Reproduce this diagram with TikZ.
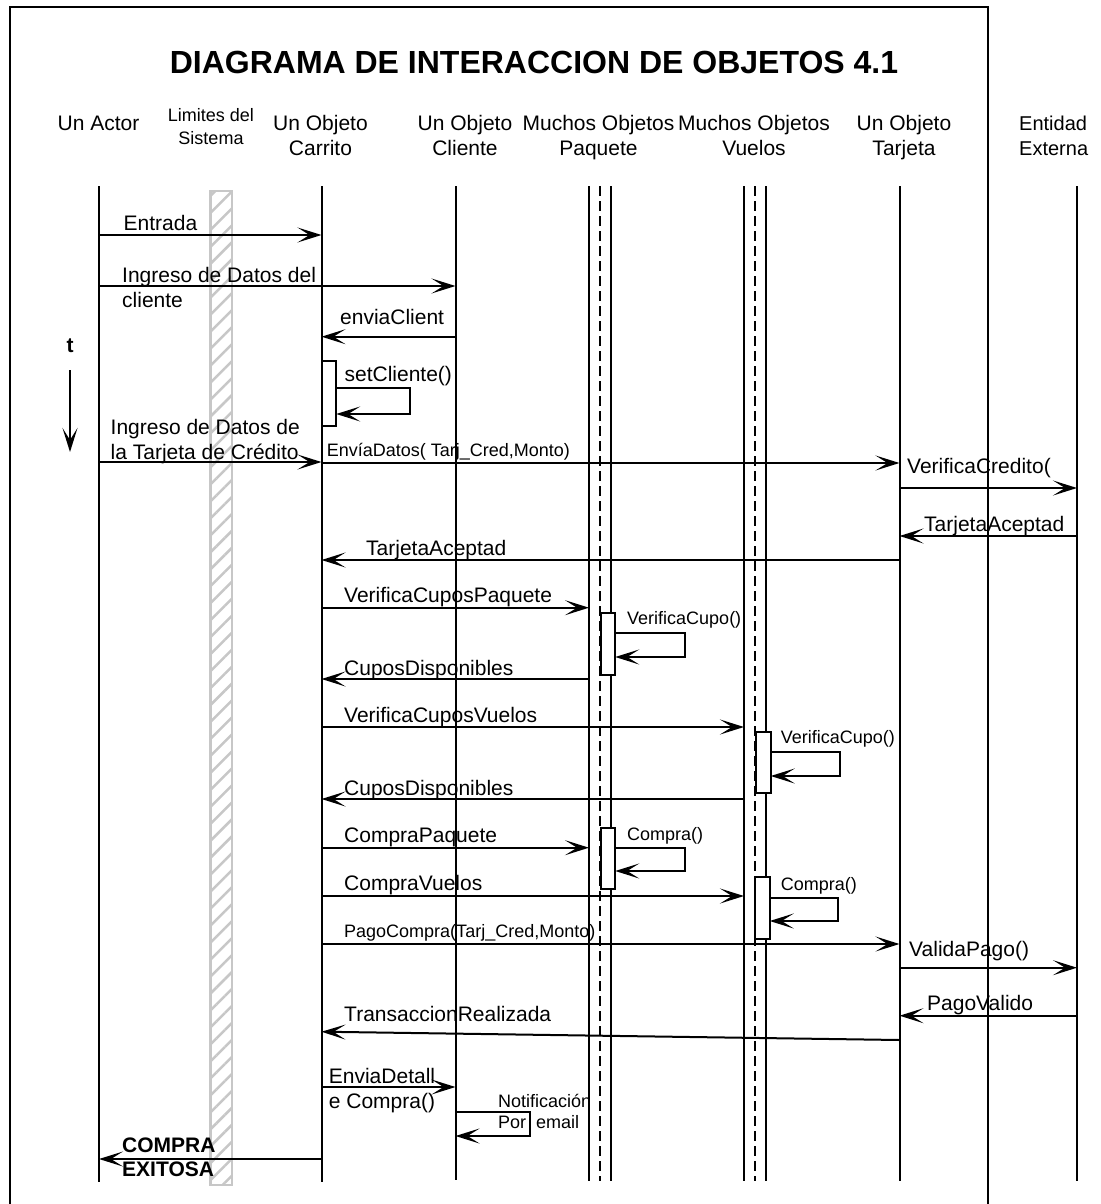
\documentclass[tikz,border=0pt]{standalone}
\usepackage{fontspec}
\setmainfont{Liberation Sans}
\usetikzlibrary{arrows.meta,patterns.meta}

\tikzset{
  lbl/.style={anchor=base west, inner sep=0pt, align=left, font=\fontsize{21}{25}\selectfont},
  sml/.style={anchor=base west, inner sep=0pt, align=left, font=\fontsize{18}{21}\selectfont},
  hdr/.style={anchor=base, inner sep=0pt, align=center, font=\fontsize{21}{25}\selectfont},
  life/.style={line width=2pt},
  multi/.style={line width=2pt, dash pattern=on 10pt off 5pt},
  msg/.style={line width=2pt, -{Stealth[length=24pt,width=15pt,inset=12pt]}},
  actbox/.style={draw, line width=2pt, fill=white, inner sep=0pt, minimum width=14.5pt},
}

\begin{document}
\begin{tikzpicture}[x=1pt,y=-1pt]
\useasboundingbox (0,0) rectangle (1100,1204);
\draw[line width=1.5pt] (10,1204) -- (10,7) -- (988,7) -- (988,1204);

\node[anchor=base, inner sep=0pt, font=\fontsize{32}{38}\selectfont\bfseries] (titulo) at (534,73.7) {DIAGRAMA DE INTERACCION DE OBJETOS 4.1};

% cabeceras
\node[hdr] (actor) at (98.5,130.5) {Un Actor};
\node[hdr, font=\fontsize{18}{23}\selectfont] (lim) at (211,144) {Limites del\\Sistema};
\node[hdr] (carrito) at (320.5,155.4) {Un Objeto\\Carrito};
\node[hdr] (cliente) at (465,155.4) {Un Objeto\\Cliente};
\node[hdr] (paquete) at (598.5,155.4) {Muchos Objetos\\Paquete};
\node[hdr] (vuelos) at (754,155.4) {Muchos Objetos\\Vuelos};
\node[hdr] (tarjeta) at (904,155.4) {Un Objeto\\Tarjeta};
\node[hdr, anchor=base west, align=left, font=\fontsize{20}{25}\selectfont] (externa) at (1019,155.4) {Entidad\\Externa};

% limites del sistema
\draw[draw=black!22, line width=2.5pt, pattern={Lines[angle=45,distance=12pt,line width=2.5pt]}, pattern color=black!22] (210.5,191) rectangle (232,1185);

% lineas de vida
\coordinate (a0) at (99,186);    \coordinate (a1) at (99,1182);
\coordinate (c0) at (321.5,186); \coordinate (c1) at (321.5,1182);
\coordinate (k0) at (455.5,186); \coordinate (k1) at (455.5,1180);
\coordinate (p0) at (589,186);   \coordinate (p1) at (589,1181);
\coordinate (q0) at (599.5,186); \coordinate (q1) at (599.5,1181);
\coordinate (r0) at (610.5,186); \coordinate (r1) at (610.5,1181);
\coordinate (v0) at (744,186);   \coordinate (v1) at (744,1181);
\coordinate (w0) at (755,186);   \coordinate (w1) at (755,1181);
\coordinate (u0) at (766,186);   \coordinate (u1) at (766,1181);
\coordinate (j0) at (899.5,186); \coordinate (j1) at (899.5,1181);
\coordinate (e0) at (1077,186);  \coordinate (e1) at (1077,1181);
\draw[life] (a0) -- (a1) (c0) -- (c1) (k0) -- (k1) (p0) -- (p1) (r0) -- (r1)
  (v0) -- (v1) (u0) -- (u1) (j0) -- (j1) (e0) -- (e1);
\draw[multi] (q0) -- (q1) (w0) -- (w1);

% tiempo
\node[anchor=base, inner sep=0pt, font=\fontsize{21}{25}\selectfont\bfseries] (t) at (70,352) {t};
\coordinate (t0) at (70,370); \coordinate (t1) at (70,452);
\draw[msg] (t0) -- (t1);

% mensajes
\coordinate (m1a) at (99,235);    \coordinate (m1b) at (321.5,235);
\draw[msg] (m1a) -- (m1b);
\node[lbl] (l1) at (123.5,230) {Entrada};

\coordinate (m2a) at (99,286);    \coordinate (m2b) at (455.5,286);
\draw[msg] (m2a) -- (m2b);
\node[lbl] (l2) at (122,307.6) {Ingreso de Datos del\\cliente};

\coordinate (m3a) at (455.5,336.7); \coordinate (m3b) at (321.5,336.7);
\draw[msg] (m3a) -- (m3b);
\node[lbl] (l3) at (340,324.5) {enviaClient};

\node[actbox, minimum height=65.4pt] (b1) at (329,393.3) {};
\coordinate (s1a) at (336.2,388); \coordinate (s1b) at (336.2,414);
\draw[msg] (s1a) -- ++(74,0) |- (s1b);
\node[lbl] (l4) at (344.4,381.6) {setCliente()};

\coordinate (m5a) at (99,462);    \coordinate (m5b) at (321.5,462);
\draw[msg] (m5a) -- (m5b);
\node[lbl] (l5) at (110.5,459.5) {Ingreso de Datos de\\la Tarjeta de Crédito};

\coordinate (m6a) at (321.5,463); \coordinate (m6b) at (899.5,463);
\draw[msg] (m6a) -- (m6b);
\node[sml] (l6) at (326.7,456.7) {EnvíaDatos( Tarj\_Cred,Monto)};

\coordinate (m7a) at (899.5,488); \coordinate (m7b) at (1077,488);
\draw[msg] (m7a) -- (m7b);
\node[lbl] (l7) at (907,473) {VerificaCredito(};

\coordinate (m8a) at (1077,536);  \coordinate (m8b) at (899.5,536);
\draw[msg] (m8a) -- (m8b);
\node[lbl] (l8) at (924,531) {TarjetaAceptad};

\coordinate (m9a) at (899.5,560); \coordinate (m9b) at (321.5,560);
\draw[msg] (m9a) -- (m9b);
\node[lbl] (l9) at (366,555) {TarjetaAceptad};

\coordinate (m10a) at (321.5,607.7); \coordinate (m10b) at (589,607.7);
\draw[msg] (m10a) -- (m10b);
\node[lbl] (l10) at (344,602.7) {VerificaCuposPaquete};

\node[actbox, minimum height=62.3pt] (b2) at (608,643.9) {};
\coordinate (s2a) at (615.2,633); \coordinate (s2b) at (615.2,657);
\draw[msg] (s2a) -- ++(70,0) |- (s2b);
\node[sml] (l11) at (627,624) {VerificaCupo()};

\coordinate (m12a) at (589,679);  \coordinate (m12b) at (321.5,679);
\draw[msg] (m12a) -- (m12b);
\node[lbl] (l12) at (344,675) {CuposDisponibles};

\coordinate (m13a) at (321.5,727); \coordinate (m13b) at (744,727);
\draw[msg] (m13a) -- (m13b);
\node[lbl] (l13) at (344,722.7) {VerificaCuposVuelos};

\node[actbox, minimum height=61pt] (b3) at (763.5,762.5) {};
\coordinate (s3a) at (770.7,752); \coordinate (s3b) at (770.7,776);
\draw[msg] (s3a) -- ++(69,0) |- (s3b);
\node[sml] (l14) at (780.7,743.3) {VerificaCupo()};

\coordinate (m15a) at (744,799);  \coordinate (m15b) at (321.5,799);
\draw[msg] (m15a) -- (m15b);
\node[lbl] (l15) at (344,795) {CuposDisponibles};

\coordinate (m16a) at (321.5,847.7); \coordinate (m16b) at (589,847.7);
\draw[msg] (m16a) -- (m16b);
\node[lbl] (l16) at (344,842.7) {CompraPaquete};

\node[actbox, minimum height=61pt] (b4) at (608,858.5) {};
\coordinate (s4a) at (615.2,848); \coordinate (s4b) at (615.2,871);
\draw[msg] (s4a) -- ++(70,0) |- (s4b);
\node[sml] (l17) at (627,840) {Compra()};

\coordinate (m18a) at (321.5,896); \coordinate (m18b) at (744,896);
\draw[msg] (m18a) -- (m18b);
\node[lbl] (l18) at (344,890.7) {CompraVuelos};

\node[actbox, minimum height=62pt] (b5) at (762.5,908) {};
\coordinate (s5a) at (769.7,897.7); \coordinate (s5b) at (769.7,921);
\draw[msg] (s5a) -- ++(68,0) |- (s5b);
\node[sml] (l19) at (780.7,890) {Compra()};

\coordinate (m20a) at (321.5,944); \coordinate (m20b) at (899.5,944);
\draw[msg] (m20a) -- (m20b);
\node[sml] (l20) at (344,937) {PagoCompra(Tarj\_Cred,Monto)};

\coordinate (m21a) at (899.5,967.7); \coordinate (m21b) at (1077,967.7);
\draw[msg] (m21a) -- (m21b);
\node[lbl] (l21) at (909,956) {ValidaPago()};

\coordinate (m22a) at (1077,1015.7); \coordinate (m22b) at (899.5,1015.7);
\draw[msg] (m22a) -- (m22b);
\node[lbl] (l22) at (927,1010) {PagoValido};

\coordinate (m23a) at (899.5,1040); \coordinate (m23b) at (321.5,1031.7);
\draw[msg] (m23a) -- (m23b);
\node[lbl] (l23) at (344,1021) {TransaccionRealizada};

\coordinate (m24a) at (321.5,1087); \coordinate (m24b) at (455.5,1087);
\draw[msg] (m24a) -- (m24b);
\node[lbl] (l24) at (328.7,1108) {EnviaDetall\\e Compra()};

\coordinate (s6a) at (455.5,1112); \coordinate (s6b) at (455.5,1136);
\draw[msg] (s6a) -- ++(74,0) |- (s6b);
\node[sml] (l25) at (498,1128) {Notificación\\Por~~email};

\coordinate (m26a) at (321.5,1159); \coordinate (m26b) at (99,1159);
\draw[msg] (m26a) -- (m26b);
\node[lbl, font=\fontsize{21}{24}\selectfont\bfseries] (l26) at (122,1176) {COMPRA\\EXITOSA};
\end{tikzpicture}
\end{document}
